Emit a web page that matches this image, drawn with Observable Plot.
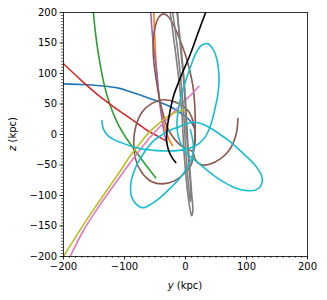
<!DOCTYPE html>
<html>
<head>
<meta charset="utf-8">
<script src="https://cdn.jsdelivr.net/npm/d3@7"></script>
<script src="https://cdn.jsdelivr.net/npm/@observablehq/plot@0.6"></script>
<style>
  html, body { margin: 0; padding: 0; background: white; }
</style>
</head>
<body>
<div id="chart"></div>
<script>
// Orbit tracks as [y, z] in kpc
const blue = [[-200,83],[-170,82],[-140,80],[-110,76],[-90,70],[-70,63],[-50,56],[-35,50],[-20,43],[-5,33],[8,22],[15,10]];
const orange = [[-52,200],[-50,150],[-47,100],[-43,60],[-38,30],[-32,5],[-26,-10],[-21,-18]];
const green = [[-151,200],[-148,170],[-144,140],[-139,110],[-134,85],[-128,62],[-121,41],[-113,22],[-104,5],[-93,-12],[-80,-30],[-65,-50],[-49,-71]];
const red = [[-200,116],[-170,88],[-140,62],[-120,47],[-100,33],[-80,19],[-60,5],[-45,-3],[-33,-10]];
const purple = [[-57,200],[-53,150],[-48,110],[-44,70],[-40,35],[-36,8],[-32,-10]];
const brownA = [[86,26],[84,5],[79,-12],[70,-28],[57,-40],[42,-48],[28,-50],[18,-44],[13,-30],[15,-10],[16,20],[15,50],[12,80],[7,105],[0,130],[-9,155],[-19,178],[-28,193],[-36,198],[-44,192],[-50,175],[-53,150],[-52,120],[-48,90],[-43,60],[-37,35],[-30,12],[-20,-5],[-8,-18],[3,-24],[12,-28]];
const brownB = [[12,-32],[16,-10],[14,15],[5,38],[-14,52],[-36,57],[-55,51],[-71,37],[-81,15],[-85,-12],[-82,-40],[-72,-62],[-56,-77],[-38,-81],[-18,-76],[0,-62],[10,-48],[12,-32]];
const pink = [[-189,-200],[-167,-157],[-140,-115],[-115,-80],[-95,-52],[-80,-32],[-65,-13],[-50,4],[-35,20],[-20,36],[-5,52],[8,64],[22,79]];
const grayA = [[-25,200],[-17,140],[-9,72],[-5,20],[-3,-20],[0,-60],[4,-100],[8,-125],[10,-133],[12,-126],[10,-95],[7,-55],[4,-15],[2,20],[-1,72],[-7,140],[-14,200]];
const grayB = [[-21,200],[-13,140],[-6,72],[-2,20],[0,-20],[3,-60],[6,-95],[8,-110],[9,-105],[8,-80],[5,-40],[2,0],[0,40],[-4,100],[-10,160],[-13,200]];
const olive = [[-200,-200],[-175,-160],[-150,-122],[-125,-86],[-105,-57],[-90,-34],[-75,-15],[-60,3],[-45,17],[-30,29],[-15,37],[-2,40]];
const cyan = [[-137,23],[-135,10],[-128,-1],[-118,-8],[-106,-13],[-90,-19],[-70,-24],[-52,-26],[-30,-27],[-10,-26],[8,-22],[22,-15],[33,-3],[40,12],[45,28],[49,45],[53,65],[55,88],[54,108],[51,125],[45,140],[36,149],[26,146],[17,133],[9,113],[2,93],[-4,74],[-9,55],[-12,38],[-14,20],[-13,3],[-9,-12],[-3,-23],[3,-32],[20,-46],[36,-59],[52,-71],[68,-81],[85,-89],[101,-92],[115,-91],[123,-85],[126,-72],[121,-60],[112,-48],[101,-37],[86,-23],[72,-11],[57,0],[40,11],[25,18],[13,20],[0,17],[-12,12],[-25,7],[-36,1],[-52,-10],[-66,-27],[-79,-48],[-87,-68],[-90,-85],[-89,-100],[-82,-113],[-70,-120],[-56,-114],[-41,-103],[-25,-88],[-8,-70],[3,-54],[11,-37],[13,-20],[11,-5],[8,8]];
const black = [[33,200],[20,165],[8,132],[-8,94],[-19,65],[-26,35],[-30,10],[-31,-10],[-28,-25],[-22,-38],[-16,-46]];

const xTicks = [-200, -100, 0, 100, 200];
const yTicks = [-200, -150, -100, -50, 0, 50, 100, 150, 200];
const xMinor = d3.range(-200, 201, 10);
const yMinor = d3.range(-200, 201, 5);

const layers = [
  [blue, "#1f77b4"], [orange, "#ff7f0e"], [green, "#2ca02c"], [red, "#d62728"],
  [purple, "#9467bd"], [brownA, "#8c564b"], [brownB, "#8c564b"], [pink, "#e377c2"],
  [grayA, "#7f7f7f"], [grayB, "#7f7f7f"], [olive, "#bcbd22"], [cyan, "#17becf"], [black, "#000000"]
];

const lineMarks = layers.map(([pts, color]) =>
  Plot.line(pts, {x: d => d[0], y: d => d[1], stroke: color, strokeWidth: 1.6, curve: "catmull-rom", clip: true})
);

const svg = Plot.plot({
  width: 327,
  height: 300,
  marginLeft: 63,
  marginRight: 20,
  marginTop: 12,
  marginBottom: 44,
  style: {fontFamily: "DejaVu Sans", fontSize: "10px", background: "white", color: "black"},
  x: {domain: [-200, 200], label: null},
  y: {domain: [-200, 200], label: null},
  marks: [
    ...lineMarks,
    Plot.axisX(xMinor, {tickSize: 2, tickFormat: () => "", label: null, strokeWidth: 0.6}),
    Plot.axisY(yMinor, {tickSize: 2, tickFormat: () => "", label: null, strokeWidth: 0.6}),
    Plot.axisX(xTicks, {tickSize: 3.5, tickPadding: 3, label: null, fontSize: 10, strokeWidth: 0.8}),
    Plot.axisY(yTicks, {tickSize: 3.5, tickPadding: 3, label: null, fontSize: 10, strokeWidth: 0.8}),
    Plot.frame({stroke: "black", strokeWidth: 0.8})
  ]
});

const sel = d3.select(svg);
const xl = sel.append("text")
  .attr("x", 185).attr("y", 289)
  .attr("text-anchor", "middle")
  .attr("font-family", "DejaVu Sans").attr("font-size", 10).attr("fill", "black");
xl.append("tspan").attr("font-style", "italic").text("y");
xl.append("tspan").text(" (kpc)");

const yl = sel.append("text")
  .attr("transform", "translate(16,134) rotate(-90)")
  .attr("text-anchor", "middle")
  .attr("font-family", "DejaVu Sans").attr("font-size", 10).attr("fill", "black");
yl.append("tspan").attr("font-style", "italic").text("z");
yl.append("tspan").text(" (kpc)");

document.getElementById("chart").appendChild(svg);
</script>
</body>
</html>
